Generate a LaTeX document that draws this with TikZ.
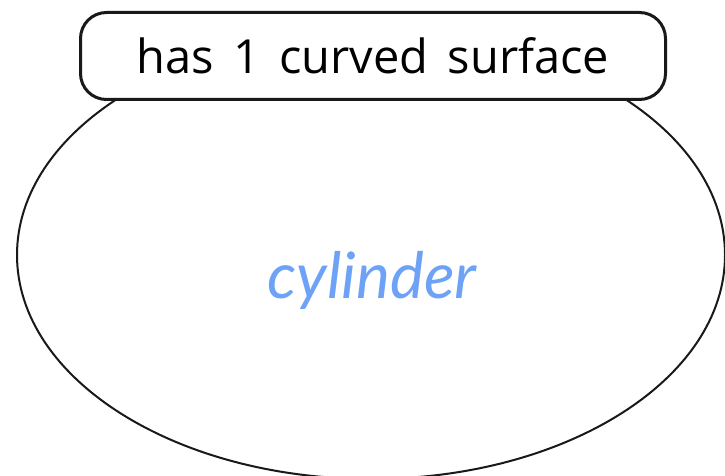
\documentclass[tikz,border=0pt]{standalone}
\usepackage{fontspec}
\usetikzlibrary{shapes.geometric}
\setmainfont{Open Sans}
\newfontfamily\handfont{Lato}
\definecolor{handblue}{RGB}{110,162,246}
\tikzset{
  blob/.style={draw=black!90, line width=2pt},
  labelbox/.style={draw=black!90, line width=3pt, fill=white, rounded corners=26pt, minimum width=585pt, minimum height=87pt, inner sep=0pt},
  handtext/.style={text=handblue, font=\handfont\itshape\fontsize{64}{72}\selectfont}
}
\begin{document}
\begin{tikzpicture}[x=1pt,y=-1pt]
\useasboundingbox (0,0) rectangle (725,476);
\node[blob, ellipse, minimum width=708pt, minimum height=448pt, inner sep=0pt] (shape) at (371,255) {};
\node[labelbox, font=\fontsize{47}{54}\selectfont] (label) at (373,56) {has\hspace{0.15em} 1\hspace{0.15em} curved\hspace{0.15em} surface};
\node[handtext, anchor=base] (word) at (372,298) {cylinder};
\end{tikzpicture}
\end{document}
